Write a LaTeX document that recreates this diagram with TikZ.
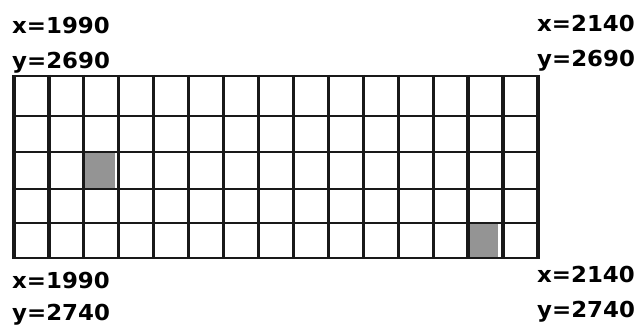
\documentclass[tikz,border=0pt]{standalone}
\usepackage{fontspec}
\setmainfont{DejaVu Sans}
\begin{document}
\begin{tikzpicture}[x=1pt,y=-1pt,
  lbl/.style={anchor=base west,inner sep=0pt,font=\fontsize{22}{22}\selectfont\bfseries},
  vline/.style={line width=3.2pt,black!90},
  hline/.style={line width=2.2pt,black!90},
  shade/.style={fill=black!42}]
\useasboundingbox[fill=white] (0,0) rectangle (638,328);
% shaded cells
\fill[shade] (84,153) rectangle (115,188);
\fill[shade] (467,224) rectangle (498,257);
% horizontal lines
\foreach \yy in {115.7,151.7,189.3,222.7} \draw[hline] (14,\yy) -- (540,\yy);
\draw[vline,line width=2.6pt] (14,76) -- (538,76);
\draw[vline,line width=2.6pt] (14,258) -- (540,258);
% vertical lines
\foreach \i in {0,...,15} \draw[vline] ({14+\i*34.93},74.8) -- ({14+\i*34.93},259.2);
% labels
\node[lbl] (tlx) at (12,34) {\scalebox{1.04}[1]{x=1990}};
\node[lbl] (tly) at (12,69) {\scalebox{1.04}[1]{y=2690}};
\node[lbl] (blx) at (12,289) {\scalebox{1.04}[1]{x=1990}};
\node[lbl] (bly) at (12,321) {\scalebox{1.04}[1]{y=2740}};
\node[lbl] (trx) at (537,32) {\scalebox{1.04}[1]{x=2140}};
\node[lbl] (try) at (537,67) {\scalebox{1.04}[1]{y=2690}};
\node[lbl] (brx) at (537,283) {\scalebox{1.04}[1]{x=2140}};
\node[lbl] (bry) at (537,318) {\scalebox{1.04}[1]{y=2740}};
\end{tikzpicture}
\end{document}
